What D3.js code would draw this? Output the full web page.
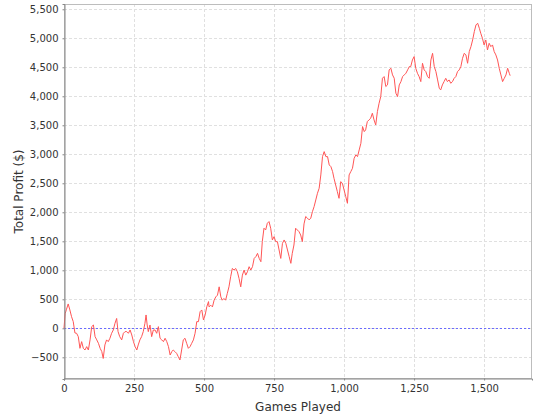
<!DOCTYPE html>
<html><head><meta charset="utf-8">
<script src="https://cdn.jsdelivr.net/npm/d3@7"></script>
<style>body{margin:0;background:#fff}svg{display:block}</style>
</head><body><div id="chart"></div>
<script>
const games = [0,4,9,15,21,27,33,39,45,51,57,63,69,75,81,87,93,99,105,111,117,123,129,135,140,146,152,158,164,170,176,182,188,193,199,206,212,218,224,230,236,242,248,254,260,265,271,277,283,289,293,297,301,307,313,319,325,331,337,343,349,355,361,367,373,379,385,390,396,402,408,414,420,426,432,438,444,450,456,462,468,474,480,486,492,498,504,510,516,
518,524,530,536,542,548,554,560,565,571,577,583,589,595,601,607,613,619,625,631,637,643,649,655,661,667,673,679,685,691,697,703,708,714,720,726,732,738,744,750,756,762,768,774,780,786,792,798,804,810,815,821,827,833,839,845,851,857,863,869,875,881,887,893,899,
905,911,917,923,929,935,941,947,953,959,964,970,976,982,988,994,1000,1006,1012,1018,1024,1030,1036,1042,1048,1054,1060,1066,1072,1077,1083,1089,1095,1101,1107,1113,1119,1125,1131,1137,1143,1149,1155,1161,1167,1173,1179,1185,1191,1197,1203,1209,1215,1221,1227,1233,
1238,1244,1250,1256,1262,1268,1274,1280,1286,1292,1298,1304,1310,1316,1322,1328,1334,1340,1345,1351,1357,1363,1369,1375,1381,1387,1393,1399,1405,1411,1417,1423,1429,1435,1441,1447,1453,1459,1465,1471,1477,1483,1488,1494,1500,1506,1512,1518,1524,1530,1536,1542,1548,1554,1560,1566,1572,1578,1584,1590,1593];
const profit = [0,250,330,420,316,200,115,-80,-86,-144,-345,-230,-345,-374,-316,-374,-200,29,57,-144,-200,-259,-345,-402,-520,-287,-200,-230,-172,-86,-29,86,170,-57,-144,-200,-86,-57,-57,-86,-29,-115,-230,-316,-374,-287,-200,-144,-57,86,230,57,-57,57,-144,-29,-29,-86,29,-172,-200,-230,-172,-230,-316,-460,-402,-374,-402,-431,-489,-546,-374,-200,-172,-259,-345,-316,-259,-200,-86,115,115,287,316,144,230,374,460,
369,398,369,485,542,571,715,542,485,514,485,600,715,888,1032,1004,1032,975,860,715,917,1004,917,975,1062,1004,1062,1205,1235,1292,1205,1148,1494,1725,1696,1811,1840,1725,1523,1580,1494,1494,1350,1205,1465,1523,1465,1350,1235,1120,1292,1436,1725,1696,1667,1609,1494,1800,1927,1900,1870,1896,2011,2098,2213,
2328,2414,2644,2960,3046,2960,2960,2816,2787,2701,2586,2471,2356,2241,2529,2500,2385,2270,2155,2644,2701,2759,2931,2989,2960,3075,3190,3478,3391,3420,3564,3593,3621,3708,3593,3506,3736,3880,3995,4311,4340,4168,4196,4455,4484,4369,4311,4053,3995,4196,4253,4340,4369,4398,4455,4513,
4512,4626,4684,4483,4397,4339,4253,4569,4454,4425,4339,4310,4626,4741,4512,4425,4282,4138,4109,4196,4253,4310,4253,4282,4224,4253,4310,4339,4425,4454,4512,4655,4741,4713,4569,4770,4856,4971,5115,5230,5259,5172,5087,5000,4885,4971,4799,4914,4856,4885,4770,4713,4626,4483,4368,4253,4310,4368,4483,4396,4356];
const xTicks = [0,250,500,750,1000,1250,1500];
const yTicks = [-500,0,500,1000,1500,2000,2500,3000,3500,4000,4500,5000,5500];
const xLabel = "Games Played";
const yLabel = "Total Profit ($)";

(function(){
const W = 540, H = 420;
const pL = 64, pR = 532, pT = 4, pB = 379;
const svg = d3.select("#chart").append("svg").attr("width", W).attr("height", H)
  .style("font-family", "'DejaVu Sans', sans-serif");
svg.append("rect").attr("width", W).attr("height", H).attr("fill", "#fff");

const x = d3.scaleLinear().domain([0, 1671]).range([pL, pR]);
const y = d3.scaleLinear().domain([-874, 5591]).range([pB, pT]);
const fmt = d3.format(",");

const g = svg.append("g");
g.selectAll(".gx").data(xTicks).join("line")
  .attr("x1", d => Math.floor(x(d)) + 0.5).attr("x2", d => Math.floor(x(d)) + 0.5)
  .attr("y1", pT).attr("y2", pB)
  .attr("stroke", "#e0e0e0").attr("stroke-dasharray", "3,2");
g.selectAll(".gy").data(yTicks).join("line")
  .attr("y1", d => Math.round(y(d)) + 0.5).attr("y2", d => Math.round(y(d)) + 0.5)
  .attr("x1", pL).attr("x2", pR)
  .attr("stroke", "#e0e0e0").attr("stroke-dasharray", "3,2");

svg.append("rect").attr("x", pL + 0.5).attr("y", pT + 0.5)
  .attr("width", pR - pL - 1).attr("height", pB - pT - 1)
  .attr("fill", "none").attr("stroke", "#bdbdbd");

svg.append("line").attr("x1", pL).attr("x2", pR)
  .attr("y1", Math.round(y(0)) + 0.5).attr("y2", Math.round(y(0)) + 0.5)
  .attr("stroke", "#6b6bff").attr("stroke-dasharray", "2,2");

const line = d3.line().x((d, i) => x(games[i])).y(d => y(d));
svg.append("path").datum(profit).attr("d", line)
  .attr("fill", "none").attr("stroke", "#ff5555").attr("stroke-width", 1)
  .attr("stroke-linejoin", "round");

const xAxis = d3.axisBottom(x).tickValues(xTicks).tickFormat(fmt).tickSize(2).tickPadding(4);
const yAxis = d3.axisLeft(y).tickValues(yTicks).tickFormat(fmt).tickSize(2).tickPadding(4);
const gx = svg.append("g").attr("transform", `translate(0,${pB - 0.5})`).call(xAxis);
const gy = svg.append("g").attr("transform", `translate(${pL + 0.5},0)`).call(yAxis);
[gx, gy].forEach(a => {
  a.select(".domain").attr("stroke", "#888");
  a.selectAll(".tick line").attr("stroke", "#888");
  a.selectAll(".tick text").attr("fill", "#333").style("font-size", "10px")
   .style("font-family", "'DejaVu Sans', sans-serif");
});

svg.append("text").attr("x", (pL + pR) / 2).attr("y", 411)
  .attr("text-anchor", "middle").style("font-size", "12px").attr("fill", "#333").text(xLabel);
svg.append("text").attr("transform", `translate(23,${(pT + pB) / 2}) rotate(-90)`)
  .attr("text-anchor", "middle").style("font-size", "12px").attr("fill", "#333").text(yLabel);
})();
</script></body></html>
